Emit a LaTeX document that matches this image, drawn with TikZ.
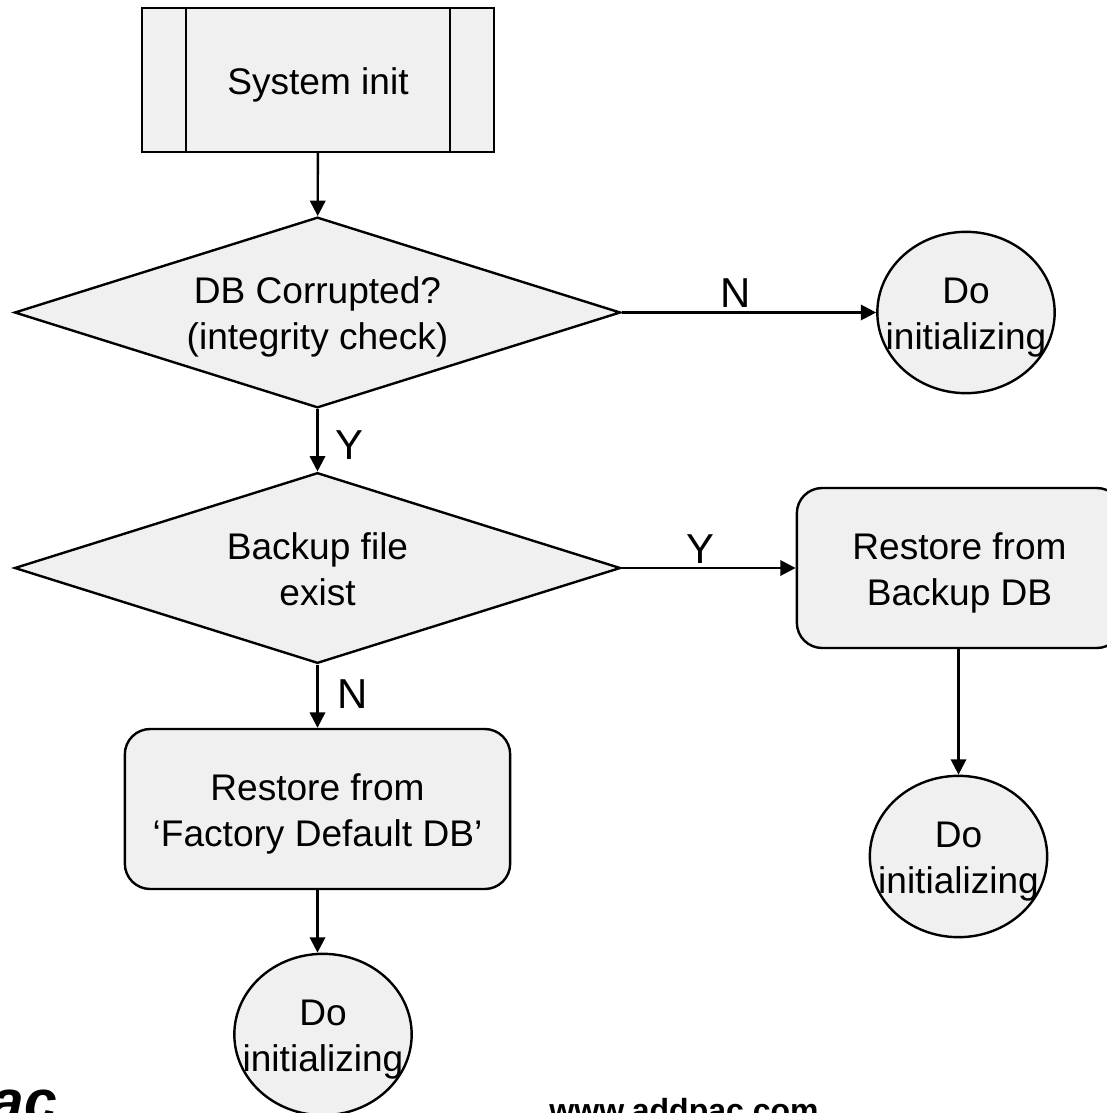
\documentclass[tikz,border=0pt]{standalone}
\usepackage{fontspec}
\setmainfont{Liberation Sans}
\usetikzlibrary{shapes,arrows,positioning,calc,arrows.meta}

\tikzset{
  every node/.style={font=\fontsize{27.8}{34.5}\selectfont, align=flush center, inner sep=0pt},
  shapebox/.style={draw=black, fill=black!6, line width=1.8pt,
    execute at begin node={\rule{0pt}{27pt}},
    execute at end node={\rule[-6pt]{0pt}{6pt}}},
  decision/.style={shapebox, diamond, aspect=3.17, text width=200pt, minimum width=454.5pt, minimum height=143pt},
  process/.style={shapebox, rectangle, rounded corners=19pt, minimum height=120pt},
  donode/.style={shapebox, ellipse, text width=122pt, inner xsep=-15pt, minimum width=133pt, minimum height=121pt},
  flow/.style={-{Triangle[length=11.5pt,width=11.5pt]}, line width=1.8pt},
  flowlabel/.style={font=\fontsize{31.4}{36}\selectfont}
}

\begin{document}
\begin{tikzpicture}[x=0.75pt,y=-0.75pt]
        \useasboundingbox (0,0) rectangle (1106,1113);

        % init box
        \node[shapebox, rectangle, minimum width=264pt, minimum height=108pt] (init) at (318,80) {System init};
        \draw[line width=1.8pt] (186,8) -- (186,152);
        \draw[line width=1.8pt] (450,8) -- (450,152);

        % decisions
        \node[decision] (corrupt) at (317.5,312.5) {DB Corrupted?\\(integrity check)};
        \node[decision] (backup) at (317.5,568) {Backup file\\exist};

        % restore boxes
        \node[process, text width=260pt, minimum width=289pt] (factory) at (317.5,809) {Restore from\\`Factory Default DB'};
        \node[process, text width=200pt, minimum width=244pt] (restore) at (959.5,568) {Restore from\\Backup DB};

        % ends
        \node[donode] (doa) at (966,312.5) {Do\\initializing};
        \node[donode] (dob) at (958.5,856.5) {Do\\initializing};
        \node[donode] (doc) at (323,1034.5) {Do\\initializing};

        % connectors
        \draw[flow] (init) -- (corrupt);
        \draw[flow] (corrupt) -- (backup);
        \draw[flow] (corrupt.east) -- (doa.west);
        \draw[flow] (backup.east) -- (restore.west);
        \draw[flow] (backup) -- (factory);
        \draw[flow] (dob |- restore.south) -- (dob.north);
        \draw[flow] (factory.south) -- (factory.south |- doc.north);

        % branch labels
        \node[flowlabel] (lbla) at (736,293) {N};
        \node[flowlabel] (lblb) at (349.5,445) {Y};
        \node[flowlabel] (lblc) at (700,549) {Y};
        \node[flowlabel] (lbld) at (352.5,694) {N};

        % footer
        \node[font=\bfseries\fontsize{24}{28}\selectfont, anchor=base] (url) at (684,1121) {www.addpac.com};
        \node[font=\bfseries\itshape\fontsize{44}{50}\selectfont, anchor=base east] (logo) at (57,1121) {ac};
    \end{tikzpicture}
\end{document}
